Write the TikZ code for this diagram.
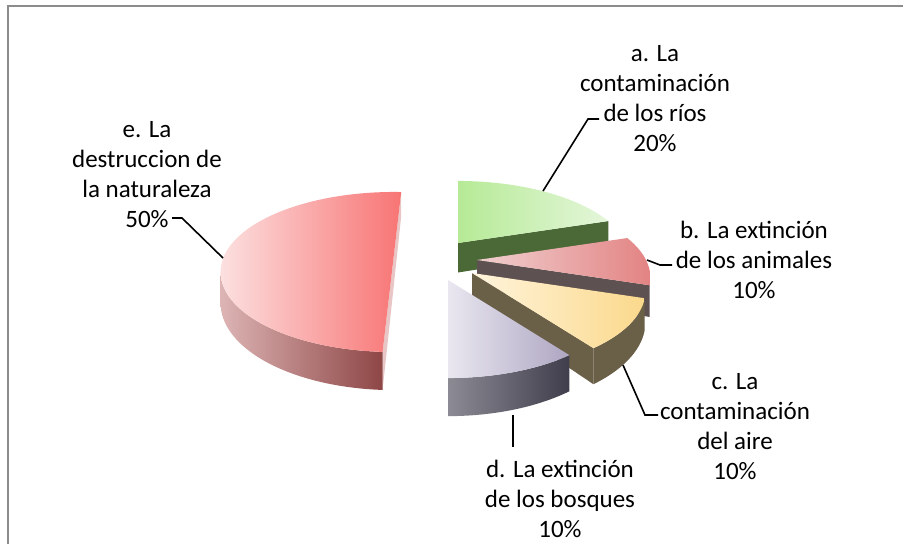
\documentclass[tikz,border=0pt]{standalone}
\usepackage{fontspec}
\setmainfont{Carlito}
\usepackage{xcolor}
\usepackage{tikz}

\definecolor{frame}{HTML}{8C8C8C}
\definecolor{eTopL}{HTML}{FCE0E0}
\definecolor{eTopR}{HTML}{F87474}
\definecolor{eSideL}{HTML}{DDB4B4}
\definecolor{eSideR}{HTML}{8E4646}
\definecolor{eCut}{HTML}{E9C6C6}
\definecolor{aTopL}{HTML}{B6EA96}
\definecolor{aTopR}{HTML}{E4F6DA}
\definecolor{aFace}{HTML}{4B6837}
\definecolor{bTopL}{HTML}{F0D0D0}
\definecolor{bTopR}{HTML}{E38383}
\definecolor{bFace}{HTML}{5E5151}
\definecolor{cTopL}{HTML}{FFF4DC}
\definecolor{cTopR}{HTML}{FBD98C}
\definecolor{cFace}{HTML}{6A5F47}
\definecolor{dTopL}{HTML}{E9E7F0}
\definecolor{dTopR}{HTML}{AEA6C2}
\definecolor{dSideL}{HTML}{8C8B94}
\definecolor{dSideR}{HTML}{403D4C}

\tikzset{declare function={
    px(\t)=169*cos(\t)/(1+0.225*sin(\t));
    py(\t)=76*sin(\t)/(1+0.225*sin(\t));
    pd(\t)=29.5/(1+0.225*sin(\t));
}}

\begin{document}
\begin{tikzpicture}[x=1pt,y=-1pt]

    \useasboundingbox (0,0) rectangle (903,544);
    \draw[line width=2pt, frame] (903,5.5) -- (8,5.5) -- (8,544);

    % e. naturaleza
    \fill[eCut] ({394+px(87)},{254-py(87)}) -- ({394+px(267)},{254-py(267)})
        -- ({394+px(267)},{254-py(267)+pd(267)}) -- ({394+px(87)},{254-py(87)+pd(87)}) -- cycle;
    \shade[left color=eSideL, right color=eSideR]
        plot[variable=\t, domain=193:267, samples=40] ({394+px(\t)},{254-py(\t)})
        -- plot[variable=\t, domain=267:193, samples=40] ({394+px(\t)},{254-py(\t)+pd(\t)}) -- cycle;
    \shade[left color=eTopL, right color=eTopR]
        plot[variable=\t, domain=87:267, samples=90] ({394+px(\t)},{254-py(\t)}) -- cycle;

    % a. rios
    \fill[aFace] (458,243) -- ({458+px(18)},{243-py(18)})
        -- ({458+px(18)},{243-py(18)+pd(18)}) -- (458,272.5) -- cycle;
    \shade[left color=aTopL, right color=aTopR]
        (458,243) -- plot[variable=\t, domain=18:90, samples=40] ({458+px(\t)},{243-py(\t)}) -- cycle;

    % b. animales
    \fill[bFace] (477,260) -- ({477+px(-18)},{260-py(-18)})
        -- ({477+px(-18)},{260-py(-18)+pd(-18)}) -- (477,289.5) -- cycle;
    \shade[left color=bTopL, right color=bTopR]
        (477,260) -- plot[variable=\t, domain=-18:18, samples=30] ({477+px(\t)},{260-py(\t)}) -- cycle;

    % c. aire
    \fill[cFace] (472,273) -- ({472+px(-54)},{273-py(-54)})
        -- ({472+px(-54)},{273-py(-54)+pd(-54)}) -- (472,302.5) -- cycle;
    \fill[cFace]
        plot[variable=\t, domain=-54:-18, samples=30] ({472+px(\t)},{273-py(\t)})
        -- plot[variable=\t, domain=-18:-54, samples=30] ({472+px(\t)},{273-py(\t)+pd(\t)}) -- cycle;
    \shade[left color=cTopL, right color=cTopR]
        (472,273) -- plot[variable=\t, domain=-54:-18, samples=30] ({472+px(\t)},{273-py(\t)}) -- cycle;

    % d. bosques
    \shade[left color=dSideL, right color=dSideR]
        plot[variable=\t, domain=-90:-54, samples=30] ({448+px(\t)},{280-py(\t)})
        -- plot[variable=\t, domain=-54:-90, samples=30] ({448+px(\t)},{280-py(\t)+pd(\t)}) -- cycle;
    \shade[left color=dTopL, right color=dTopR]
        (448,280) -- plot[variable=\t, domain=-90:-54, samples=30] ({448+px(\t)},{280-py(\t)}) -- cycle;

    \node[align=center,
          inner sep=0pt,
          font=\fontsize{25}{30}\selectfont
          ] (lab-a) at (655,99) {a. La\\contaminación\\de los ríos\\20\%};
    \node[align=center,
          inner sep=0pt,
          font=\fontsize{25}{30}\selectfont
          ] (lab-b) at (754,260) {b. La extinción\\de los animales\\10\%};
    \node[align=center,
          inner sep=0pt,
          font=\fontsize{25}{30}\selectfont
          ] (lab-c) at (735,427) {c. La\\contaminación\\del aire\\10\%};
    \node[align=center,
          inner sep=0pt,
          font=\fontsize{25}{30}\selectfont
          ] (lab-d) at (560,499) {d. La extinción\\de los bosques\\10\%};
    \node[align=center,
          inner sep=0pt,
          font=\fontsize{25}{30}\selectfont
          ] (lab-e) at (147,175) {e. La\\destruccion de\\la naturaleza\\50\%};

    \coordinate (a-pt) at (543,191);
    \coordinate (a-knee) at (588,119);
    \coordinate (a-end) at (599,119);
    \coordinate (b-pt) at (647,260);
    \coordinate (b-knee) at (660,265);
    \coordinate (b-end) at (672,265);
    \coordinate (c-pt) at (623,365);
    \coordinate (c-knee) at (645,415);
    \coordinate (c-end) at (658,415);
    \coordinate (d-pt) at (513,415);
    \coordinate (d-end) at (513,447);
    \coordinate (e-pt) at (223,258);
    \coordinate (e-knee) at (182,218);
    \coordinate (e-end) at (172,218);

    %leader lines
    \draw[line width=1.6pt] (a-pt) -- (a-knee) -- (a-end);
    \draw[line width=1.6pt] (b-pt) -- (b-knee) -- (b-end);
    \draw[line width=1.6pt] (c-pt) -- (c-knee) -- (c-end);
    \draw[line width=1.6pt] (d-pt) -- (d-end);
    \draw[line width=1.6pt] (e-pt) -- (e-knee) -- (e-end);

\end{tikzpicture}
\end{document}
